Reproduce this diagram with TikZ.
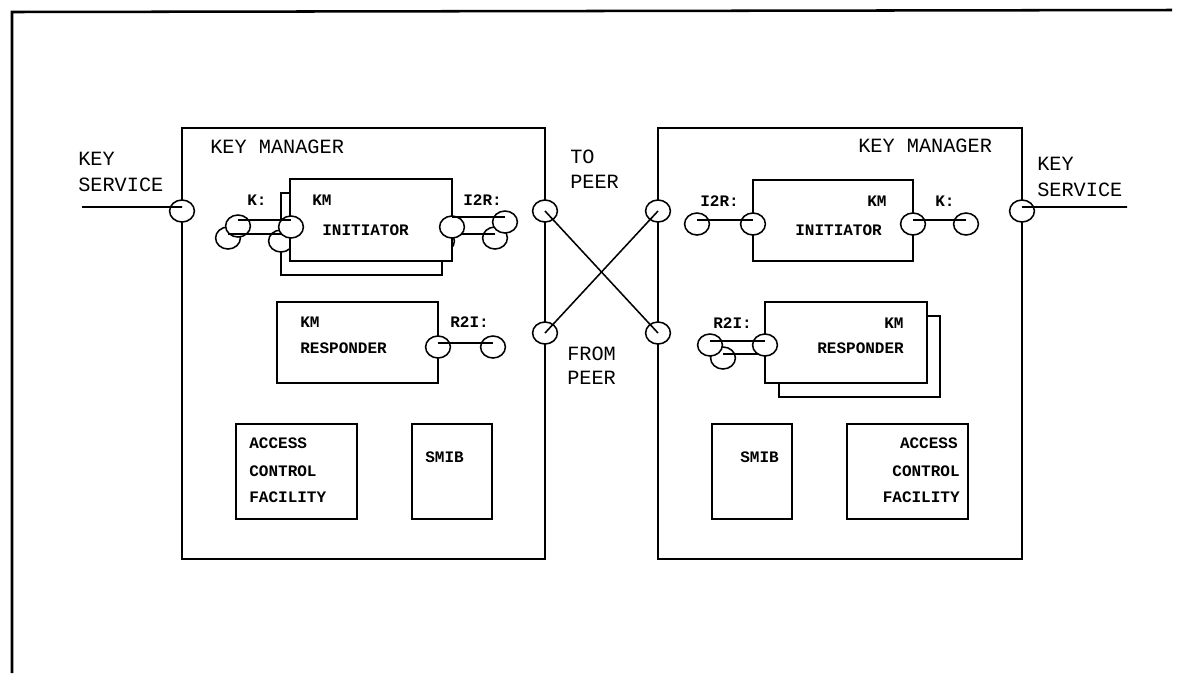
\documentclass[tikz,border=0pt]{standalone}
\usepackage{fontspec}
\newfontfamily\dm{Liberation Mono}
\usetikzlibrary{shapes.geometric,fit}
\tikzset{
  frame/.style={line width=1.8pt},
  box/.style={draw, fill=white, inner sep=0pt, outer sep=0pt, line width=1.1pt},
  port/.style={draw, fill=white, ellipse, minimum width=0.62cm, minimum height=0.55cm, inner sep=0pt, outer sep=0pt, line width=1.1pt},
  wire/.style={line width=1.1pt},
  bigtxt/.style={font=\dm\fontsize{14.4}{17}\selectfont, anchor=west, inner sep=0pt},
  smalltxt/.style={font=\dm\bfseries\fontsize{11.4}{13}\selectfont, anchor=west, inner sep=0pt},
  smalltxtr/.style={font=\dm\bfseries\fontsize{11.4}{13}\selectfont, anchor=east, inner sep=0pt}
}
\begin{document}
\begin{tikzpicture}[x=0.025cm,y=-0.025cm]
\useasboundingbox (0,0) rectangle (1180,673);
\fill[white] (0,0) rectangle (1180,673);
% outer frame
\coordinate (fBL) at (12,673);
\coordinate (fTL) at (12,12);
\coordinate (fTR) at (1172,10);
\draw[frame] (fBL) -- (fTL) -- (fTR);

% key manager boxes
\node[box, fit={(182,128) (545,559)}] (kmL) {};
\node[box, fit={(658,128) (1022,559)}] (kmR) {};
\node[bigtxt] (tkmL) at (210,147) {KEY MANAGER};
\node[bigtxt] (tkmR) at (858,146) {KEY MANAGER};

% key service labels
\node[bigtxt] (tksL1) at (78,159) {KEY};
\node[bigtxt] (tksL2) at (78,185) {SERVICE};
\node[bigtxt] (tksR1) at (1037,164) {KEY};
\node[bigtxt] (tksR2) at (1037,190) {SERVICE};
\node[bigtxt] (tto1) at (570,157) {TO};
\node[bigtxt] (tto2) at (570,182) {PEER};
\node[bigtxt] (tfr1) at (567,354) {FROM};
\node[bigtxt] (tfr2) at (567,378) {PEER};

% boundary ports
\node[port] (ksL) at (182,211) {};
\node[port] (ksR) at (1022,211) {};
\node[port] (toL) at (545,211) {};
\node[port] (toR) at (658,211) {};
\node[port] (frL) at (545,333) {};
\node[port] (frR) at (658,333) {};
\coordinate (ksLend) at (82,207);
\coordinate (ksRend) at (1127,207);
\draw[wire] (ksLend) -- ([yshift=0.1cm]ksL.center);
\draw[wire] ([yshift=0.1cm]ksR.center) -- (ksRend);
\draw[wire] (toL.center) -- (frR.center);
\draw[wire] (toR.center) -- (frL.center);

% ---------- left initiator (stacked) ----------
\node[box, fit={(281,193) (442,275)}] (liB) {};
\node[port] (liBk) at (281,241) {};
\node[port] (liBi) at (442,241) {};
\node[port] (kBo) at (228,238) {};
\node[port] (kFo) at (238,226) {};
\node[port] (iBo) at (495,238) {};
\node[port] (iFo) at (505,222) {};
\draw[wire] ([yshift=0.1cm]kBo.center) -- ([yshift=0.1cm]kBo.center -| liBk.center);
\draw[wire] ([yshift=0.1cm]iBo.center -| liBi.center) -- ([yshift=0.1cm]iBo.center);
\node[box, fit={(290,179) (452,261)}] (liF) {};
\node[port] (liFk) at (291,227) {};
\node[port] (liFi) at (452,227) {};
\draw[wire] ([yshift=0.15cm]kFo.center) -- ([yshift=0.15cm]kFo.center -| liFk.center);
\draw[wire] ([yshift=0.12cm]iFo.center -| liFi.center) -- ([yshift=0.12cm]iFo.center);
\node[smalltxt] (tliK) at (247,200) {K:};
\node[smalltxt] (tliKM) at (312,200) {KM};
\node[smalltxt] (tliI) at (322,230) {INITIATOR};
\node[smalltxt] (tliR) at (463,200) {I2R:};

% ---------- left responder ----------
\node[box, fit={(277,302) (438,383)}] (lr) {};
\node[port] (lrp) at (438,347) {};
\node[port] (lro) at (493,347) {};
\draw[wire] ([yshift=0.1cm]lrp.center) -- ([yshift=0.1cm]lro.center);
\node[smalltxt] (tlrKM) at (300,322) {KM};
\node[smalltxt] (tlrR) at (300,348) {RESPONDER};
\node[smalltxt] (tlrP) at (450,322) {R2I:};

% ---------- left ACF and SMIB ----------
\node[box, fit={(236,424) (357,519)}] (acfL) {};
\node[smalltxt] (tacfL1) at (249,443) {ACCESS};
\node[smalltxt] (tacfL2) at (249,471) {CONTROL};
\node[smalltxt] (tacfL3) at (249,497) {FACILITY};
\node[box, fit={(412,424) (492,519)}] (smibL) {};
\node[smalltxt] (tsmibL) at (425,457) {SMIB};

% ---------- right initiator ----------
\node[box, fit={(753,180) (913,261)}] (ri) {};
\node[port] (rip1) at (753,224) {};
\node[port] (rip2) at (913,224) {};
\node[port] (rio1) at (697,224) {};
\node[port] (rio2) at (966,224) {};
\draw[wire] ([yshift=0.1cm]rio1.center) -- ([yshift=0.1cm]rip1.center);
\draw[wire] ([yshift=0.1cm]rip2.center) -- ([yshift=0.1cm]rio2.center);
\node[smalltxt] (triR) at (700,201) {I2R:};
\node[smalltxt] (triKM) at (867,201) {KM};
\node[smalltxt] (triI) at (795,230) {INITIATOR};
\node[smalltxt] (triK) at (935,201) {K:};

% ---------- right responder (stacked) ----------
\node[box, fit={(779,316) (940,397)}] (rrB) {};
\node[port] (rrBp) at (779,358) {};
\node[port] (rBo) at (723,358) {};
\node[port] (rFo) at (710,345) {};
\draw[wire] ([yshift=0.1cm]rBo.center) -- ([yshift=0.1cm]rrBp.center);
\node[box, fit={(765,302) (927,383)}] (rrF) {};
\node[port] (rrFp) at (765,345) {};
\draw[wire] ([yshift=0.1cm]rFo.center) -- ([yshift=0.1cm]rrFp.center);
\node[smalltxt] (trrP) at (713,323) {R2I:};
\node[smalltxt] (trrKM) at (884,323) {KM};
\node[smalltxt] (trrR) at (817,348) {RESPONDER};

% ---------- right SMIB and ACF ----------
\node[box, fit={(712,424) (792,519)}] (smibR) {};
\node[smalltxt] (tsmibR) at (740,457) {SMIB};
\node[box, fit={(847,424) (968,519)}] (acfR) {};
\node[smalltxtr] (tacfR1) at (958,443) {ACCESS};
\node[smalltxtr] (tacfR2) at (960,471) {CONTROL};
\node[smalltxtr] (tacfR3) at (960,497) {FACILITY};
\end{tikzpicture}
\end{document}
